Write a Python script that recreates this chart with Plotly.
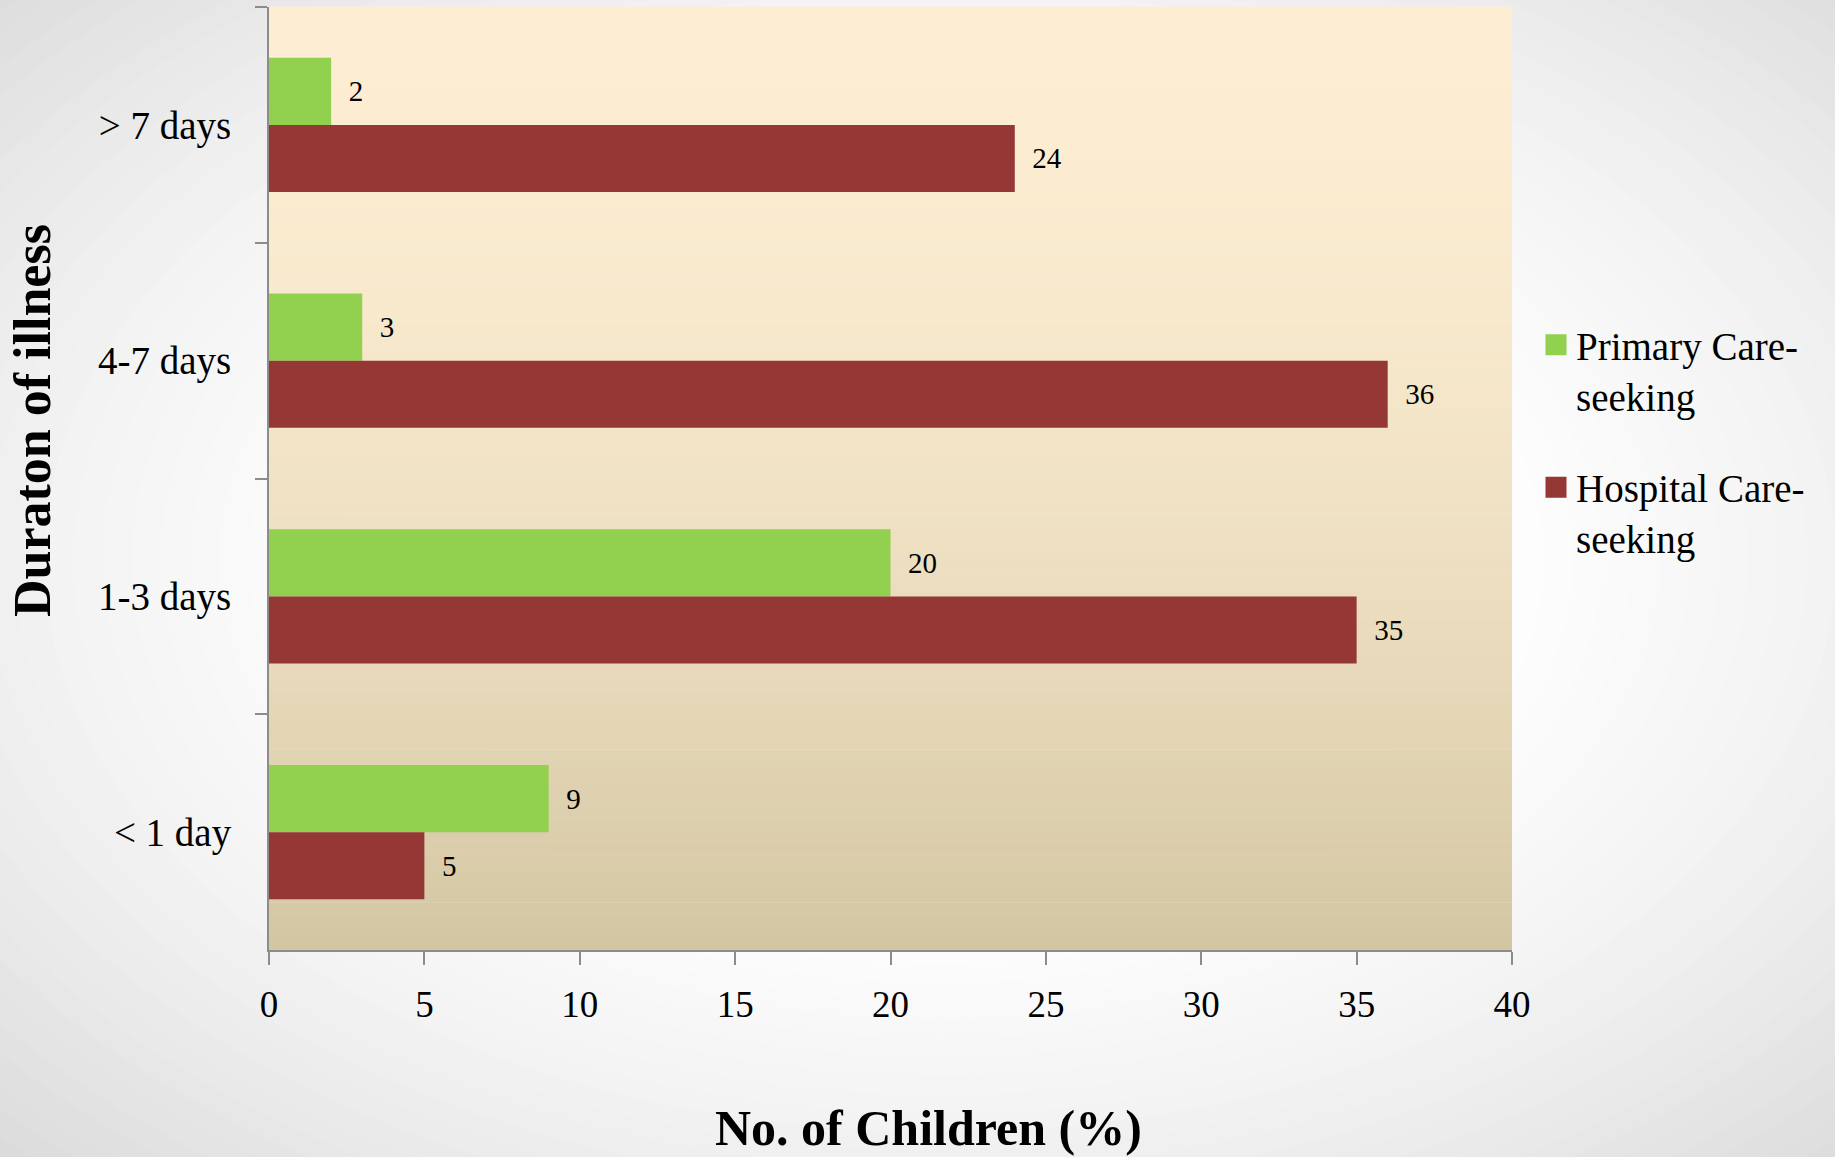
import plotly.graph_objects as go

# ---- data ----
categories = [">\u00a07 days", "4-7 days", "1-3 days", "<\u00a01 day"]
primary_care = [2, 3, 20, 9]
hospital_care = [24, 36, 35, 5]
series_names = ["Primary Care-<br>seeking", "Hospital Care-<br>seeking"]
x_title = "No. of Children (%)"
y_title = "Duraton of illness"
x_ticks = [0, 5, 10, 15, 20, 25, 30, 35, 40]

# ---- layout geometry (pixels) ----
W, H = 1835, 1157
L, R, T, B = 269, 1512, 7, 950
FONT = "Liberation Serif"
GREEN = "#92D050"
RED = "#953735"
AXIS = "#8c8c8c"


def px2x(px):
    return (px - L) / (R - L)


def py2y(py):
    return (B - py) / (B - T)


shapes = []
# page background: radial grey-to-white gradient
cx, cy = 940, 560
N = 36
for i in range(N):
    t = 1.0 - i * (0.75 / (N - 1))
    k = max(0.0, (t - 0.32) / 0.68) ** 1.6
    v = int(round(255 - 38 * k))
    rx, ry = 1.45 * 940 * t, 1.45 * 600 * t
    shapes.append(dict(type="circle", xref="paper", yref="paper",
                       x0=px2x(cx - rx), x1=px2x(cx + rx),
                       y0=py2y(cy + ry), y1=py2y(cy - ry),
                       fillcolor=f"rgb({v},{v},{v})", line=dict(width=0),
                       layer="below"))

# plot area background: vertical beige gradient
top_c = (253, 238, 211)
bot_c = (211, 198, 162)
S = 80
for i in range(S):
    f = (i + 0.5) / S
    g = f ** 1.8
    c = tuple(int(round(top_c[j] + (bot_c[j] - top_c[j]) * g)) for j in range(3))
    shapes.append(dict(type="rect", xref="paper", yref="paper",
                       x0=0, x1=1, y0=1 - (i + 1) / S, y1=1 - i / S + 0.0005,
                       fillcolor=f"rgb{c}", line=dict(width=0), layer="below"))

fig = go.Figure()
fig.add_trace(go.Bar(
    y=categories, x=primary_care, orientation="h", name=series_names[0],
    marker=dict(color=GREEN, line=dict(width=0)),
    texttemplate="\u00a0\u00a0%{x}", textposition="outside", cliponaxis=False,
    constraintext="none", textfont=dict(family=FONT, size=29, color="black"),
    showlegend=False))
fig.add_trace(go.Bar(
    y=categories, x=hospital_care, orientation="h", name=series_names[1],
    marker=dict(color=RED, line=dict(width=0)),
    texttemplate="\u00a0\u00a0%{x}", textposition="outside", cliponaxis=False,
    constraintext="none", textfont=dict(family=FONT, size=29, color="black"),
    showlegend=False))

# legend entries
for name, col, grp in [(series_names[0], GREEN, "a"), (series_names[1], RED, "b")]:
    fig.add_trace(go.Scatter(
        x=[None], y=[None], mode="markers", name=name, legendgroup=grp,
        marker=dict(symbol="square", size=16, color=col, line=dict(color=col, width=5)),
        showlegend=True))

fig.update_layout(
    width=W, height=H,
    margin=dict(l=L, r=W - R, t=T, b=H - B, pad=0),
    paper_bgcolor="rgb(217,217,217)",
    plot_bgcolor="rgba(0,0,0,0)",
    barmode="group", bargap=0.43, bargroupgap=0,
    font=dict(family=FONT, color="black"),
    shapes=shapes,
    legend=dict(x=px2x(1536), y=py2y(313), xanchor="left", yanchor="top",
                font=dict(family=FONT, size=39, color="black"),
                bgcolor="rgba(0,0,0,0)", tracegroupgap=38, valign="top",
                itemclick=False),
    xaxis=dict(range=[0, 40], tickvals=x_ticks, ticktext=[str(v) for v in x_ticks],
               showgrid=False, zeroline=False, showline=True, linecolor=AXIS,
               linewidth=2, ticks="outside", ticklen=13, tickwidth=2,
               tickcolor=AXIS, tickfont=dict(family=FONT, size=37, color="black"),
               ticklabelstandoff=8, fixedrange=True),
    yaxis=dict(categoryorder="array", categoryarray=categories,
               autorange="reversed", showgrid=False, zeroline=False,
               showline=True, linecolor=AXIS, linewidth=2, ticks="outside",
               tickson="boundaries", ticklen=12, tickwidth=2, tickcolor=AXIS,
               tickfont=dict(family=FONT, size=39, color="black"),
               ticklabelstandoff=28, fixedrange=True),
    annotations=[
        dict(text="<b>" + x_title + "</b>", xref="paper", yref="paper",
             x=px2x(928), y=py2y(1128), xanchor="center", yanchor="middle",
             showarrow=False, font=dict(family=FONT, size=50, color="black")),
        dict(text="<b>" + y_title + "</b>", xref="paper", yref="paper",
             x=px2x(33), y=py2y(421), xanchor="center", yanchor="middle",
             textangle=-90, showarrow=False,
             font=dict(family=FONT, size=52, color="black")),
    ],
)

fig.write_html("out.html", config={"displayModeBar": False})
